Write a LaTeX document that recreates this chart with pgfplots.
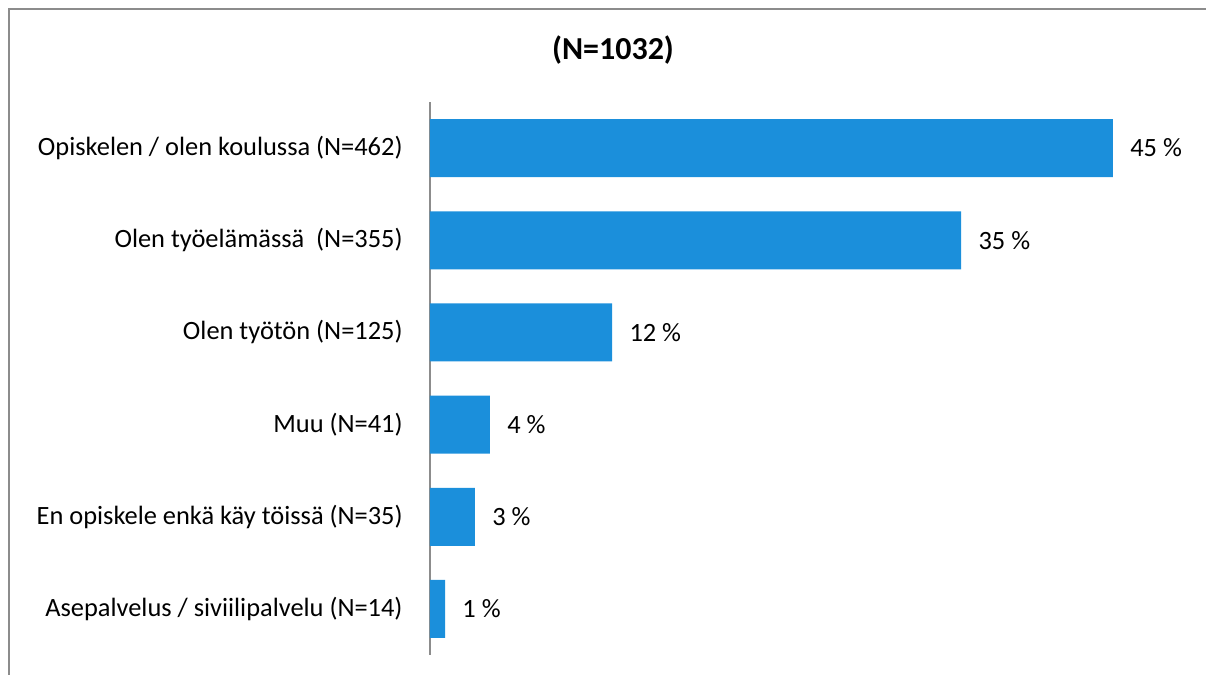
\documentclass[border=0pt]{standalone}
\usepackage{pgfplots}
\pgfplotsset{compat=1.18}
\usepackage{fontspec}
\setmainfont{Carlito}
\definecolor{barblue}{RGB}{27,143,219}
\definecolor{framegray}{RGB}{140,140,140}
\begin{document}
\begin{tikzpicture}
\path[use as bounding box] (0,0) rectangle (603pt,337.5pt);
\draw[framegray, line width=1pt] (4.5pt,0) -- (4.5pt,333pt) -- (603pt,333pt);
\node[font=\fontsize{16}{18}\selectfont\bfseries] at (306.5pt,312.5pt) {(N=1032)};
\begin{axis}[
  at={(215pt,10pt)}, anchor=south west,
  scale only axis, width=379.4pt, height=276.5pt,
  xmin=0, xmax=50, ymin=0.5, ymax=6.5, y dir=reverse,
  axis x line=none, axis y line*=left,
  y axis line style={framegray, line width=1pt, -},
  ytick={1,2,3,4,5,6}, major tick length=0pt,
  yticklabels={Opiskelen / olen koulussa (N=462), Olen työelämässä\ \ (N=355), Olen työtön (N=125), Muu (N=41), En opiskele enkä käy töissä (N=35), Asepalvelus / siviilipalvelu (N=14)},
  yticklabel style={font=\fontsize{13.2}{15}\selectfont, anchor=east, inner sep=0pt, xshift=-13.5pt},
  xbar, bar width=29pt,
  point meta=explicit symbolic,
  nodes near coords,
  nodes near coords style={font=\fontsize{13.2}{15}\selectfont, anchor=west, inner sep=0pt, xshift=8.5pt, text=black},
  clip=false,
]
\addplot[fill=barblue, draw=none] coordinates {
  (45.0,1) [45 \%]
  (35.0,2) [35 \%]
  (12.0,3) [12 \%]
  (3.95,4) [4 \%]
  (2.96,5) [3 \%]
  (0.99,6) [1 \%]
};
\end{axis}
\end{tikzpicture}
\end{document}
